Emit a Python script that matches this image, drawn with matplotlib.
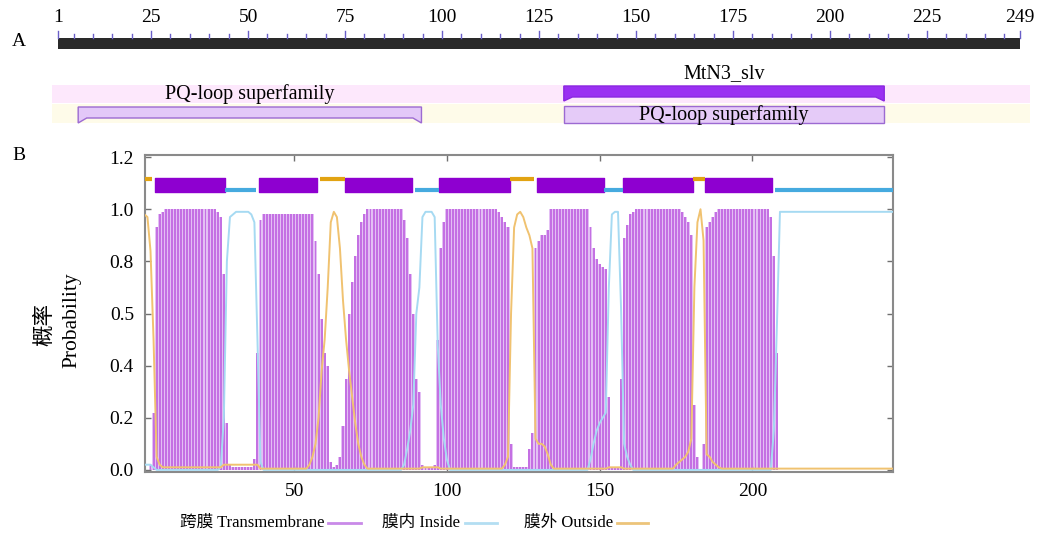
import matplotlib.pyplot as plt
import numpy as np
from matplotlib.lines import Line2D
from matplotlib.patches import Polygon, Rectangle

plt.rcParams['font.family'] = ['Liberation Serif', 'Noto Sans CJK SC']

# ---------------- A: domain map ----------------
seq_len = 249
ruler_labels = [1, 25, 50, 75, 100, 125, 150, 175, 200, 225, 249]
# (name, start, end)
pq_loop_1 = ("PQ-loop superfamily", 6.2, 94.7)
mtn3 = ("MtN3_slv", 131.4, 214.0)
pq_loop_2 = ("PQ-loop superfamily", 131.4, 214.0)

# ---------------- B: TMHMM profile ----------------
tm_helix = [(5, 27), (39, 57), (67, 88), (98, 120), (130, 151), (158, 180), (185, 206)]
inside_seg = [(28, 37), (90, 97), (152, 157), (208, 246)]
outside_seg = [(1, 3), (59, 66), (121, 128), (181, 184)]

# transmembrane probability, residue 1..246
tm = [0.00, 0.00, 0.02, 0.22, 0.93, 0.98, 0.99, 1.00, 1.00, 1.00,
      1.00, 1.00, 1.00, 1.00, 1.00, 1.00, 1.00, 1.00, 1.00, 1.00,
      1.00, 1.00, 1.00, 1.00, 0.99, 0.97, 0.75, 0.18, 0.02, 0.01,
      0.01, 0.01, 0.01, 0.01, 0.01, 0.01, 0.04, 0.45, 0.96, 0.98,
      0.98, 0.98, 0.98, 0.98, 0.98, 0.98, 0.98, 0.98, 0.98, 0.98,
      0.98, 0.98, 0.98, 0.98, 0.98, 0.98, 0.88, 0.75, 0.58, 0.45,
      0.40, 0.03, 0.01, 0.02, 0.05, 0.17, 0.35, 0.60, 0.72, 0.82,
      0.90, 0.95, 0.98, 1.00, 1.00, 1.00, 1.00, 1.00, 1.00, 1.00,
      1.00, 1.00, 1.00, 1.00, 1.00, 0.96, 0.89, 0.75, 0.60, 0.35,
      0.30, 0.02, 0.01, 0.01, 0.01, 0.02, 0.50, 0.85, 0.95, 1.00,
      1.00, 1.00, 1.00, 1.00, 1.00, 1.00, 1.00, 1.00, 1.00, 1.00,
      1.00, 1.00, 1.00, 1.00, 1.00, 1.00, 0.99, 0.97, 0.95, 0.93,
      0.10, 0.01, 0.01, 0.01, 0.01, 0.01, 0.08, 0.14, 0.85, 0.88,
      0.90, 0.90, 0.92, 1.00, 1.00, 1.00, 1.00, 1.00, 1.00, 1.00,
      1.00, 1.00, 1.00, 1.00, 1.00, 1.00, 0.93, 0.85, 0.81, 0.79,
      0.78, 0.77, 0.28, 0.01, 0.01, 0.01, 0.35, 0.89, 0.94, 0.98,
      0.99, 1.00, 1.00, 1.00, 1.00, 1.00, 1.00, 1.00, 1.00, 1.00,
      1.00, 1.00, 1.00, 1.00, 1.00, 1.00, 0.99, 0.97, 0.95, 0.90,
      0.25, 0.05, 0.00, 0.10, 0.93, 0.95, 0.97, 0.99, 1.00, 1.00,
      1.00, 1.00, 1.00, 1.00, 1.00, 1.00, 1.00, 1.00, 1.00, 1.00,
      1.00, 1.00, 1.00, 1.00, 1.00, 0.97, 0.82, 0.45, 0.00, 0.00,
      0.00, 0.00, 0.00, 0.00, 0.00, 0.00, 0.00, 0.00, 0.00, 0.00,
      0.00, 0.00, 0.00, 0.00, 0.00, 0.00, 0.00, 0.00, 0.00, 0.00,
      0.00, 0.00, 0.00, 0.00, 0.00, 0.00, 0.00, 0.00, 0.00, 0.00,
      0.00, 0.00, 0.00, 0.00, 0.00, 0.00]

# inside probability
inside = [0.02, 0.02, 0.02, 0.01, 0.00, 0.00, 0.00, 0.00, 0.00, 0.00,
          0.00, 0.00, 0.00, 0.00, 0.00, 0.00, 0.00, 0.00, 0.00, 0.00,
          0.00, 0.00, 0.00, 0.00, 0.00, 0.01, 0.20, 0.80, 0.97, 0.98,
          0.99, 0.99, 0.99, 0.99, 0.99, 0.98, 0.95, 0.50, 0.03, 0.00,
          0.00, 0.00, 0.00, 0.00, 0.00, 0.00, 0.00, 0.00, 0.00, 0.00,
          0.00, 0.00, 0.00, 0.00, 0.00, 0.00, 0.00, 0.00, 0.00, 0.00,
          0.00, 0.00, 0.00, 0.00, 0.00, 0.00, 0.00, 0.00, 0.00, 0.00,
          0.00, 0.00, 0.00, 0.00, 0.00, 0.00, 0.00, 0.00, 0.00, 0.00,
          0.00, 0.00, 0.00, 0.00, 0.00, 0.02, 0.08, 0.15, 0.25, 0.60,
          0.70, 0.97, 0.99, 0.99, 0.99, 0.97, 0.48, 0.25, 0.12, 0.04,
          0.00, 0.00, 0.00, 0.00, 0.00, 0.00, 0.00, 0.00, 0.00, 0.00,
          0.00, 0.00, 0.00, 0.00, 0.00, 0.00, 0.00, 0.00, 0.00, 0.00,
          0.00, 0.00, 0.00, 0.00, 0.00, 0.00, 0.00, 0.00, 0.00, 0.00,
          0.00, 0.00, 0.00, 0.00, 0.00, 0.00, 0.00, 0.00, 0.00, 0.00,
          0.00, 0.00, 0.00, 0.00, 0.00, 0.00, 0.04, 0.10, 0.15, 0.18,
          0.20, 0.22, 0.70, 0.98, 0.99, 0.99, 0.62, 0.10, 0.05, 0.02,
          0.00, 0.00, 0.00, 0.00, 0.00, 0.00, 0.00, 0.00, 0.00, 0.00,
          0.00, 0.00, 0.00, 0.00, 0.00, 0.00, 0.00, 0.00, 0.00, 0.00,
          0.00, 0.00, 0.00, 0.00, 0.00, 0.00, 0.00, 0.00, 0.00, 0.00,
          0.00, 0.00, 0.00, 0.00, 0.00, 0.00, 0.00, 0.00, 0.00, 0.00,
          0.00, 0.00, 0.00, 0.00, 0.00, 0.00, 0.15, 0.55, 0.99, 0.99,
          0.99, 0.99, 0.99, 0.99, 0.99, 0.99, 0.99, 0.99, 0.99, 0.99,
          0.99, 0.99, 0.99, 0.99, 0.99, 0.99, 0.99, 0.99, 0.99, 0.99,
          0.99, 0.99, 0.99, 0.99, 0.99, 0.99, 0.99, 0.99, 0.99, 0.99,
          0.99, 0.99, 0.99, 0.99, 0.99, 0.99]

# outside probability
outside = [0.98, 0.97, 0.84, 0.50, 0.05, 0.02, 0.01, 0.01, 0.01, 0.01,
           0.01, 0.01, 0.01, 0.01, 0.01, 0.01, 0.01, 0.01, 0.01, 0.01,
           0.01, 0.01, 0.01, 0.01, 0.01, 0.01, 0.02, 0.02, 0.02, 0.02,
           0.02, 0.02, 0.02, 0.02, 0.02, 0.02, 0.02, 0.02, 0.005, 0.005,
           0.005, 0.005, 0.005, 0.005, 0.005, 0.005, 0.005, 0.005, 0.005, 0.005,
           0.005, 0.005, 0.005, 0.005, 0.02, 0.05, 0.10, 0.20, 0.38, 0.50,
           0.70, 0.95, 0.99, 0.97, 0.85, 0.65, 0.50, 0.38, 0.28, 0.18,
           0.10, 0.05, 0.02, 0.005, 0.005, 0.005, 0.005, 0.005, 0.005, 0.005,
           0.005, 0.005, 0.005, 0.005, 0.005, 0.005, 0.005, 0.005, 0.005, 0.005,
           0.005, 0.01, 0.01, 0.01, 0.01, 0.01, 0.01, 0.005, 0.005, 0.005,
           0.005, 0.005, 0.005, 0.005, 0.005, 0.005, 0.005, 0.005, 0.005, 0.005,
           0.005, 0.005, 0.005, 0.005, 0.005, 0.005, 0.005, 0.005, 0.02, 0.05,
           0.60, 0.93, 0.98, 0.99, 0.97, 0.93, 0.90, 0.85, 0.12, 0.10,
           0.10, 0.09, 0.06, 0.02, 0.005, 0.005, 0.005, 0.005, 0.005, 0.005,
           0.005, 0.005, 0.005, 0.005, 0.005, 0.005, 0.005, 0.005, 0.005, 0.005,
           0.005, 0.005, 0.01, 0.01, 0.01, 0.01, 0.01, 0.005, 0.005, 0.005,
           0.005, 0.005, 0.005, 0.005, 0.005, 0.005, 0.005, 0.005, 0.005, 0.005,
           0.005, 0.005, 0.005, 0.005, 0.02, 0.03, 0.04, 0.05, 0.07, 0.12,
           0.70, 0.95, 1.00, 0.88, 0.06, 0.05, 0.03, 0.02, 0.01, 0.005,
           0.005, 0.005, 0.005, 0.005, 0.005, 0.005, 0.005, 0.005, 0.005, 0.005,
           0.005, 0.005, 0.005, 0.005, 0.005, 0.005, 0.005, 0.005, 0.005, 0.005,
           0.005, 0.005, 0.005, 0.005, 0.005, 0.005, 0.005, 0.005, 0.005, 0.005,
           0.005, 0.005, 0.005, 0.005, 0.005, 0.005, 0.005, 0.005, 0.005, 0.005,
           0.005, 0.005, 0.005, 0.005, 0.005, 0.005, 0.005, 0.005, 0.005, 0.005,
           0.005, 0.005, 0.005, 0.005, 0.005, 0.005]

xticks = [50, 100, 150, 200]
yticks = [0.0, 0.2, 0.4, 0.6, 0.8, 1.0, 1.2]
ytick_labels = ["0.0", "0.2", "0.4", "0.5", "0.8", "1.0", "1.2"]
legend_items = [("跨膜 Transmembrane", '#c98ae8'),
                ("膜内 Inside", '#b3def2'),
                ("膜外 Outside", '#ecc47a')]

W, H = 1041, 537
fig = plt.figure(figsize=(W / 100, H / 100), dpi=100)

# panel A drawn in (residue, pixel-row) coordinates
ppr = (1020 - 58) / (seq_len - 1)
axA = fig.add_axes([0, 0, 1, 1])
axA.set_xlim(1 - 58 / ppr, 1 + (W - 58) / ppr)
axA.set_ylim(H, 0)
axA.axis('off')

axA.add_patch(Rectangle((1, 38), seq_len - 1, 11, color='#2a2a2a', lw=0))
for t in [1] + list(range(5, seq_len, 5)) + [seq_len]:
    major = t in ruler_labels
    axA.plot([t, t], [31 if major else 34, 38], color='#6a5fc8', lw=1)
for t in ruler_labels:
    axA.text(t, 18, str(t), ha='center', va='center', fontsize=14)

axA.add_patch(Rectangle((-0.5, 85), 252, 18, color='#fde8fc', lw=0))
axA.add_patch(Rectangle((-0.5, 104), 252, 19, color='#fefbe9', lw=0))


def bracket(x0, x1, y0, y1, y2, dx, **kw):
    return Polygon([(x0, y0), (x1, y0), (x1, y2), (x1 - dx, y1),
                    (x0 + dx, y1), (x0, y2)], closed=True, **kw)


name, s, e = pq_loop_1
axA.add_patch(bracket(s, e, 107, 118, 123, 2.2, facecolor='#e3c8f8',
                      edgecolor='#9c6ad2', lw=1))
axA.text((s + e) / 2, 94, name, ha='center', va='center', fontsize=14.5)

name, s, e = mtn3
axA.add_patch(bracket(s, e, 86, 97, 101, 2.2, facecolor='#9a30f2',
                      edgecolor='#8a28e0', lw=1))
axA.text((s + e) / 2, 74, name, ha='center', va='center', fontsize=14.5)

name, s, e = pq_loop_2
axA.add_patch(Rectangle((s, 106), e - s, 17, facecolor='#e5cbf8',
                        edgecolor='#9c6ad2', lw=1))
axA.text((s + e) / 2, 115, name, ha='center', va='center', fontsize=14.5)

fig.text(12 / W, 1 - 42 / H, "A", ha='left', va='center', fontsize=14)
fig.text(12 / W, 1 - 155 / H, "B", ha='left', va='center', fontsize=14)

# panel B
ax = fig.add_axes([145 / W, 65 / H, 748 / W, 317 / H])
x_tm = np.arange(1, len(tm) + 1)
x_in = np.arange(1, len(inside) + 1)
x_out = np.arange(1, len(outside) + 1)
ax.bar(x_tm, tm, width=1.0, color='#e3bff4', lw=0, zorder=1)
ax.bar(x_tm, tm, width=0.62, color='#c470e3', lw=0, zorder=2)
ax.plot(x_in, inside, color='#a6daf2', lw=1.4, zorder=3)
ax.plot(x_out, outside, color='#f0c270', lw=1.4, zorder=3)

ax.broken_barh([(s - 0.5, e - s + 1) for s, e in tm_helix], (1.065, 0.054),
               color='#8e00d0', zorder=4)
for s, e in inside_seg:
    ax.plot([s - 0.5, e + 0.5], [1.073, 1.073], color='#45aadf', lw=3,
            solid_capstyle='butt', zorder=4)
for s, e in outside_seg:
    ax.plot([s - 0.5, e + 0.5], [1.115, 1.115], color='#e2a312', lw=3,
            solid_capstyle='butt', zorder=4)

ax.set_xlim(1.2, 246)
ax.set_ylim(-0.008, 1.208)
ax.set_xticks(xticks)
ax.set_yticks(yticks)
ax.set_yticklabels(ytick_labels)
ax.tick_params(direction='in', top=True, right=True, length=4, width=1,
               color='#707070', labelsize=14, pad=8)
for sp in ax.spines.values():
    sp.set_color('#8a8a8a')
    sp.set_linewidth(1.5)

fig.text(45 / W, 1 - 325 / H, "概率", rotation=90, ha='center', va='center',
         fontsize=15.5)
fig.text(72 / W, 1 - 320 / H, "Probability", rotation=90, ha='center',
         va='center', fontsize=15.5)

# legend: text then line sample
text_right = [325, 460, 613]
line_span = [(328, 361), (465, 497), (617, 648)]
for (label, col), tr, (l0, l1) in zip(legend_items, text_right, line_span):
    fig.text(tr / W, 1 - 523 / H, label, ha='right', va='center', fontsize=12)
    fig.add_artist(Line2D([l0 / W, l1 / W], [1 - 523 / H, 1 - 523 / H],
                          color=col, lw=2, transform=fig.transFigure))

fig.savefig('out.png', dpi=100)
